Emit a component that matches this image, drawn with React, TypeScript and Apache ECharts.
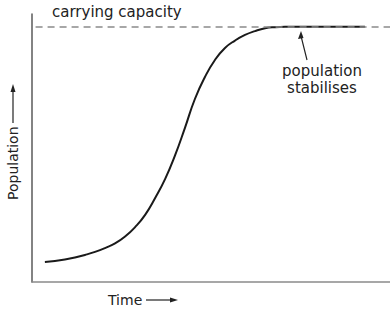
import React, { useEffect, useRef } from "react";
import * as echarts from "echarts";

const timeValues = [3.6, 6.4, 9.2, 12.0, 14.8, 17.6, 20.4, 23.2, 26.0, 28.8, 31.6, 34.4, 37.2, 39.9, 42.7, 45.5, 48.3, 51.1, 53.9, 56.7, 59.5, 62.3, 65.1, 67.9, 70.7, 93.0];
const populationValues = [7.8, 8.2, 8.8, 9.6, 10.6, 11.8, 13.3, 15.1, 17.8, 21.5, 26.3, 32.9, 40.4, 49.4, 60.3, 71.7, 80.3, 87.0, 91.7, 94.6, 96.8, 98.3, 99.4, 99.85, 100, 100];
const carryingCapacity = 100;
const labels = {
  capacity: "carrying capacity",
  stable1: "population",
  stable2: "stabilises",
  xName: "Time",
  yName: "Population",
};

const FONT = "'DejaVu Sans', sans-serif";

export default function App() {
  const ref = useRef<HTMLDivElement>(null);
  useEffect(() => {
    if (!ref.current) return;
    const chart = echarts.init(ref.current, null, { renderer: "svg" });
    const data = timeValues.map((t, i) => [t, populationValues[i]]);
    chart.setOption({
      animation: false,
      backgroundColor: "#ffffff",
      grid: { left: 32, right: 0, top: 14, bottom: 30 },
      xAxis: {
        type: "value",
        min: 0,
        max: 100,
        axisLine: { show: true, lineStyle: { color: "#8a8a8a", width: 1.5 } },
        axisTick: { show: false },
        axisLabel: { show: false },
        splitLine: { show: false },
      },
      yAxis: {
        type: "value",
        min: 0,
        max: 105,
        axisLine: { show: true, lineStyle: { color: "#5a5a5a", width: 1.5 } },
        axisTick: { show: false },
        axisLabel: { show: false },
        splitLine: { show: false },
      },
      series: [
        {
          type: "line",
          data,
          smooth: 0.5,
          showSymbol: false,
          lineStyle: { color: "#1a1a1a", width: 2 },
          markLine: {
            silent: true,
            symbol: ["none", "none"],
            label: { show: false },
            lineStyle: { color: "#8a8a8a", type: [7, 5], width: 1.5 },
            data: [[{ coord: [1, carryingCapacity] }, { coord: [100, carryingCapacity] }]],
          },
        },
      ],
      graphic: [
        {
          type: "text",
          x: 52,
          y: 12,
          style: { text: labels.capacity, font: `15px ${FONT}`, fill: "#222", verticalAlign: "middle" },
        },
        {
          type: "text",
          x: 322,
          y: 71,
          style: { text: labels.stable1, font: `15px ${FONT}`, fill: "#222", align: "center", verticalAlign: "middle" },
        },
        {
          type: "text",
          x: 322,
          y: 87.5,
          style: { text: labels.stable2, font: `15px ${FONT}`, fill: "#222", align: "center", verticalAlign: "middle" },
        },
        { type: "line", shape: { x1: 307, y1: 60, x2: 301, y2: 36 }, style: { stroke: "#222", lineWidth: 1.2 } },
        { type: "polygon", shape: { points: [[301, 31], [298, 39], [303.5, 38]] }, style: { fill: "#222" } },
        {
          type: "text",
          x: 108,
          y: 300,
          style: { text: labels.xName, font: `14px ${FONT}`, fill: "#222", verticalAlign: "middle" },
        },
        { type: "line", shape: { x1: 146, y1: 300, x2: 174, y2: 300 }, style: { stroke: "#222", lineWidth: 1.2 } },
        { type: "polygon", shape: { points: [[178, 300], [170, 297.5], [170, 302.5]] }, style: { fill: "#222" } },
        {
          type: "text",
          x: 13,
          y: 200,
          rotation: Math.PI / 2,
          style: { text: labels.yName, font: `14px ${FONT}`, fill: "#222", verticalAlign: "middle" },
        },
        { type: "line", shape: { x1: 13, y1: 123, x2: 13, y2: 89 }, style: { stroke: "#222", lineWidth: 1.2 } },
        { type: "polygon", shape: { points: [[13, 84], [10.5, 92], [15.5, 92]] }, style: { fill: "#222" } },
      ],
    });
    return () => chart.dispose();
  }, []);
  return <div ref={ref} style={{ width: 390, height: 312, position: "absolute", left: 0, top: 0 }} />;
}
